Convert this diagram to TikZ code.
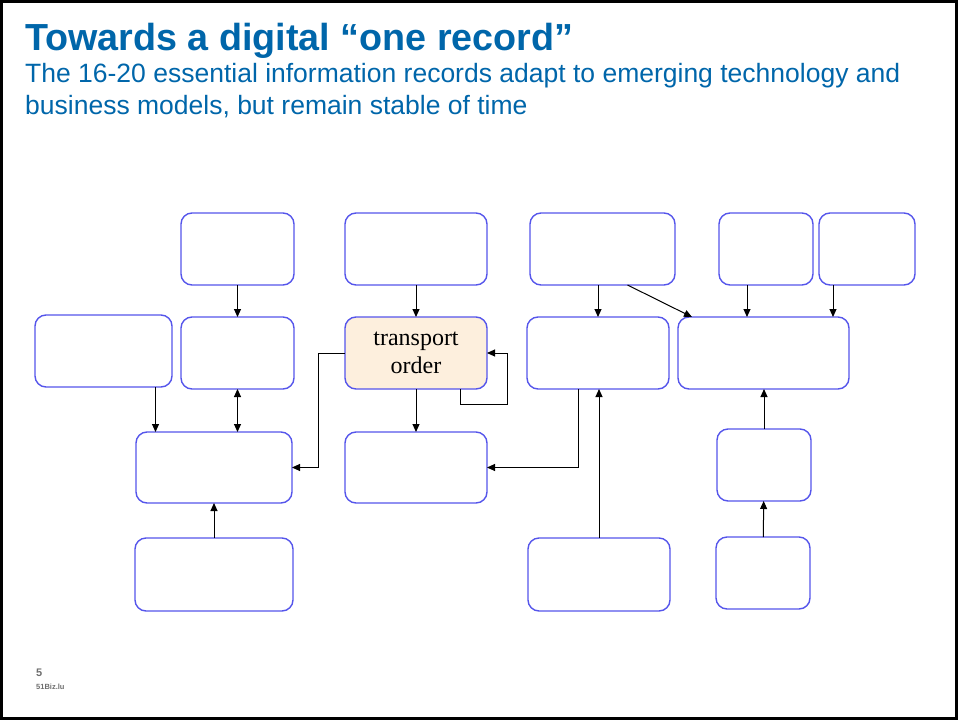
\documentclass[tikz,border=0pt]{standalone}
\usepackage{fontspec}
\setmainfont{Liberation Serif}
\setsansfont{Liberation Sans}
\usetikzlibrary{arrows.meta}
\definecolor{slideblue}{RGB}{0,102,170}
\definecolor{boxblue}{RGB}{85,85,235}
\definecolor{orderfill}{RGB}{253,239,221}
\definecolor{footgray}{RGB}{110,110,110}

\begin{document}
\begin{tikzpicture}[x=1pt, y=-1pt,
	rec/.style={draw=boxblue, line width=1.4pt, rounded corners=11pt, inner sep=0pt, outer sep=0pt, fill=white},
	arr/.style={->, >={Triangle[length=8pt,width=7pt]}, line width=1pt}]
	\useasboundingbox (0,0) rectangle (958,720);
	\draw[line width=3pt] (1.5,1.5) rectangle (956.5,718.5);
	\node[anchor=base west, inner sep=0pt, text=slideblue, font=\sffamily\bfseries\fontsize{37.7}{44}\selectfont] (title) at (25,50) {Towards a digital “one record”};
	\node[anchor=north west, inner sep=0pt, align=left, text=slideblue, font=\sffamily\fontsize{26.5}{32}\selectfont] (subtitle) at (25,63) {The 16-20 essential information records adapt to emerging technology and\\business models, but remain stable of time};
	\node[rec, minimum width=113pt, minimum height=72pt] (top1) at (237.5,249) {};
	\node[rec, minimum width=142pt, minimum height=72pt] (top2) at (416,249) {};
	\node[rec, minimum width=145pt, minimum height=72pt] (top3) at (602.5,249) {};
	\node[rec, minimum width=94pt, minimum height=72pt] (top4) at (766,249) {};
	\node[rec, minimum width=96pt, minimum height=72pt] (top5) at (867,249) {};
	\node[rec, minimum width=137pt, minimum height=72pt] (mid0) at (103.5,351) {};
	\node[rec, minimum width=113pt, minimum height=72pt] (mid1) at (237.5,353) {};
	\node[rec, fill=orderfill, minimum width=142pt, minimum height=72pt, align=center, font=\fontsize{24}{28}\selectfont] (order) at (416,353) {transport\\order};
	\node[rec, minimum width=142pt, minimum height=72pt] (mid3) at (598,353) {};
	\node[rec, minimum width=171pt, minimum height=72pt] (mid4) at (763.5,353) {};
	\node[rec, minimum width=156pt, minimum height=71pt] (low1) at (214,467.5) {};
	\node[rec, minimum width=142pt, minimum height=71pt] (low2) at (416,467.5) {};
	\node[rec, minimum width=94pt, minimum height=72pt] (low4) at (764,465) {};
	\node[rec, minimum width=158pt, minimum height=73pt] (bot1) at (214,574.5) {};
	\node[rec, minimum width=142pt, minimum height=73pt] (bot3) at (599,574.5) {};
	\node[rec, minimum width=94pt, minimum height=72pt] (bot4) at (763,573) {};
	\draw[arr] (top1) -- (mid1);
	\draw[arr] (top2) -- (order);
	\draw[arr] (top3.south -| mid3) -- (mid3);
	\draw[arr] ([xshift=25pt]top3.south) -- ([xshift=14pt]mid4.north west);
	\draw[arr] ([xshift=-19pt]top4.south) -- ([xshift=-19pt]top4.south |- mid4.north);
	\draw[arr] ([xshift=-34pt]top5.south) -- ([xshift=-34pt]top5.south |- mid4.north);
	\draw[arr] ([xshift=52pt]mid0.south) -- ([xshift=52pt]mid0.south |- low1.north);
	\draw[arr, <->] (mid1) -- (mid1 |- low1.north);
	\draw[arr] (order.west) -- ++(-27,0) |- (low1.east);
	\draw[arr] ([xshift=44pt]order.south) |- ([xshift=20pt,yshift=-15pt]order.south east) |- (order.east);
	\draw[arr] (order) -- (low2);
	\draw[arr] ([xshift=-20pt]mid3.south) |- (low2.east);
	\draw[arr] (bot3.north) -- (bot3.north |- mid3.south);
	\draw[arr] (bot1) -- (low1);
	\draw[arr] (low4) -- (low4 |- mid4.south);
	\draw[arr] (bot4) -- (low4);
	\node[anchor=base west, inner sep=0pt, text=footgray, font=\sffamily\bfseries\fontsize{11}{13}\selectfont] (pagenum) at (36,676) {5};
	\node[anchor=base west, inner sep=0pt, text=footgray, font=\sffamily\bfseries\fontsize{7.5}{9}\selectfont] (site) at (36,689) {51Biz.lu};
\end{tikzpicture}
\end{document}
